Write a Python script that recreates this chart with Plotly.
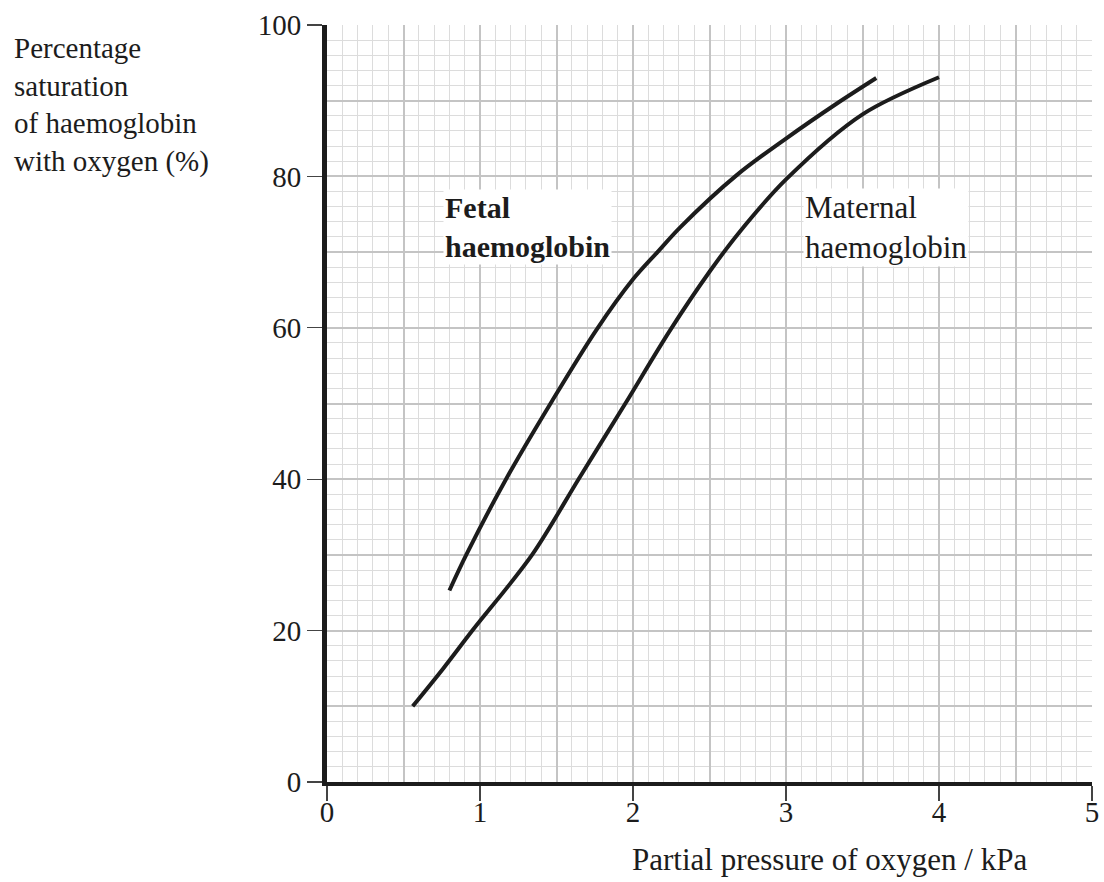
import plotly.graph_objects as go

# Data
fetal_x = [0.80, 0.91, 1.17, 1.47, 1.76, 2.00, 2.16, 2.31, 2.68, 3.00, 3.33, 3.59]
fetal_y = [25.3, 30.0, 40.0, 50.3, 59.7, 66.4, 70.0, 73.3, 80.2, 85.0, 89.6, 93.0]

maternal_x = [0.56, 0.76, 0.95, 1.34, 1.65, 1.95, 2.24, 2.50, 2.69, 3.00, 3.50, 4.00]
maternal_y = [10.0, 15.0, 20.0, 30.0, 40.2, 50.0, 59.6, 67.4, 72.5, 79.6, 88.2, 93.1]

x_ticks = [0, 1, 2, 3, 4, 5]
y_ticks = [0, 20, 40, 60, 80, 100]

SERIF = "Liberation Serif, Times New Roman, serif"
INK = "#1c1c1c"

fig = go.Figure()
# empty trace so that the base (grid) subplot is created
fig.add_trace(go.Scatter(x=[None], y=[None], xaxis="x", yaxis="y",
                         showlegend=False, hoverinfo="skip"))
for xs, ys in [(fetal_x, fetal_y), (maternal_x, maternal_y)]:
    fig.add_trace(go.Scatter(
        x=xs, y=ys, mode="lines", xaxis="x2", yaxis="y2",
        line=dict(color=INK, width=4, shape="spline", smoothing=0.9),
        showlegend=False, hoverinfo="skip"))

grid_major = "#c4c4c4"
grid_minor = "#dcdcdc"

fig.update_layout(
    width=1104, height=882,
    margin=dict(l=327, r=12, t=25, b=100),
    paper_bgcolor="white", plot_bgcolor="white",
    font=dict(family=SERIF, color=INK, size=29),
    xaxis=dict(range=[0, 5], dtick=0.5, tick0=0, showgrid=True, gridcolor=grid_major,
               gridwidth=2, showticklabels=False, ticks="", zeroline=False, showline=False,
               automargin=False,
               minor=dict(dtick=0.1, showgrid=True, gridcolor=grid_minor, gridwidth=1)),
    yaxis=dict(range=[0, 100], dtick=10, tick0=0, showgrid=True, gridcolor=grid_major,
               gridwidth=2, showticklabels=False, ticks="", zeroline=False, showline=False,
               automargin=False,
               minor=dict(dtick=2, showgrid=True, gridcolor=grid_minor, gridwidth=1)),
    xaxis2=dict(range=[0, 5], overlaying="x", side="bottom", anchor="y2", tickvals=x_ticks,
                ticktext=[str(v) for v in x_ticks], ticks="outside", ticklen=15,
                tickwidth=1.2, tickcolor="#444", showgrid=False, zeroline=False,
                showline=True, linecolor=INK, linewidth=4, ticklabelstandoff=-14,
                automargin=False,
                tickfont=dict(family=SERIF, size=29, color=INK)),
    yaxis2=dict(range=[0, 100], overlaying="y", side="left", anchor="x2", tickvals=y_ticks,
                ticktext=[str(v) for v in y_ticks], ticks="outside", ticklen=15,
                tickwidth=1.2, tickcolor="#444", showgrid=False, zeroline=False,
                showline=True, linecolor=INK, linewidth=5, automargin=False,
                tickfont=dict(family=SERIF, size=29, color=INK)),
)

fig.add_annotation(
    xref="paper", yref="paper", x=-0.4118, y=0.994, xanchor="left", yanchor="top",
    text="Percentage<br>saturation<br>of haemoglobin<br>with oxygen (%)",
    align="left", showarrow=False, font=dict(family=SERIF, size=29, color=INK))

fig.add_annotation(
    xref="paper", yref="paper", x=0.918, y=-0.103, xanchor="right", yanchor="middle",
    text="Partial pressure of oxygen / kPa", showarrow=False,
    font=dict(family=SERIF, size=31, color=INK))

fig.add_annotation(
    xref="x2", yref="y2", x=0.76, y=73.3, xanchor="left", yanchor="middle",
    text="<b>Fetal<br>haemoglobin</b>", align="left", showarrow=False,
    bgcolor="white", font=dict(family=SERIF, size=30, color=INK))

fig.add_annotation(
    xref="x2", yref="y2", x=3.11, y=73.2, xanchor="left", yanchor="middle",
    text="Maternal<br>haemoglobin", align="left", showarrow=False,
    bgcolor="white", font=dict(family=SERIF, size=31, color=INK))

fig.write_html(
    "out.html",
    config={"displayModeBar": False, "staticPlot": True},
    post_script="document.body.style.margin='0px';document.body.style.overflow='hidden';")
